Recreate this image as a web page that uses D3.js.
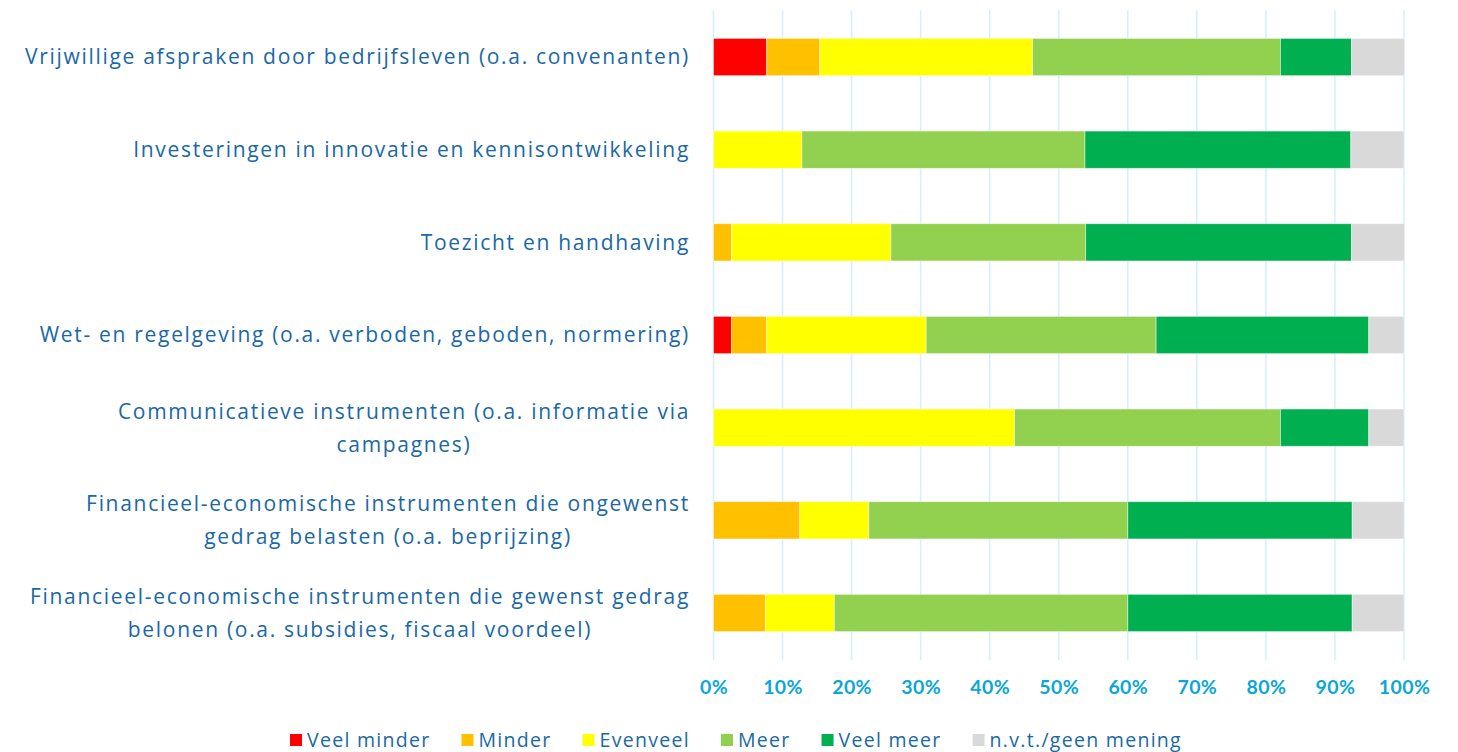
<!DOCTYPE html>
<html><head><meta charset="utf-8">
<script src="https://cdn.jsdelivr.net/npm/d3@7"></script>
<style>body{margin:0;background:#fff}svg{display:block}</style>
</head><body><svg id="c" width="1458" height="752"></svg>
<script>
const categories = [
  ["Vrijwillige afspraken door bedrijfsleven (o.a. convenanten)"],
  ["Investeringen in innovatie en kennisontwikkeling"],
  ["Toezicht en handhaving"],
  ["Wet- en regelgeving (o.a. verboden, geboden, normering)"],
  ["Communicatieve instrumenten (o.a. informatie via", "campagnes)"],
  ["Financieel-economische instrumenten die ongewenst", "gedrag belasten (o.a. beprijzing)"],
  ["Financieel-economische instrumenten die gewenst gedrag", "belonen (o.a. subsidies, fiscaal voordeel)"]
];
const seriesNames = ["Veel minder","Minder","Evenveel","Meer","Veel meer","n.v.t./geen mening"];
const seriesColors = ["#FF0000","#FFC000","#FFFF00","#92D050","#00B050","#D9D9D9"];
// percentages per category, per series
const veelMinder = [7.7, 0, 0, 2.6, 0, 0, 0];
const minder     = [7.7, 0, 2.6, 5.1, 0, 12.5, 7.5];
const evenveel   = [30.8, 12.8, 23.1, 23.1, 43.6, 10.0, 10.0];
const meer       = [35.9, 41.0, 28.2, 33.3, 38.5, 37.5, 42.5];
const veelMeer   = [10.3, 38.5, 38.5, 30.8, 12.8, 32.5, 32.5];
const nvt        = [7.7, 7.7, 7.7, 5.1, 5.1, 7.5, 7.5];
const tickValues = [0,10,20,30,40,50,60,70,80,90,100];

const seriesData = [veelMinder, minder, evenveel, meer, veelMeer, nvt];
const rows = categories.map((c,i)=>{const o={i}; seriesNames.forEach((s,j)=>o[s]=seriesData[j][i]); return o;});
const stack = d3.stack().keys(seriesNames)(rows);

const svg = d3.select("#c");
const x = d3.scaleLinear().domain([0,100]).range([713.5,1404]);
const y = d3.scaleBand().domain(d3.range(categories.length)).range([10.7,659.3]).paddingInner(0.598).paddingOuter(0.299);

// gridlines
svg.append("g").selectAll("line").data(tickValues).join("line")
  .attr("x1",d=>x(d)).attr("x2",d=>x(d)).attr("y1",10).attr("y2",660)
  .attr("stroke","#d4f1fb").attr("stroke-width",1.6);

// bars
svg.append("g").selectAll("g").data(stack).join("g")
  .attr("fill",(d,i)=>seriesColors[i])
  .selectAll("rect").data(d=>d).join("rect")
  .attr("x",d=>x(d[0])).attr("width",d=>Math.max(0,x(d[1])-x(d[0])))
  .attr("y",(d,i)=>y(i)).attr("height",y.bandwidth())
  .attr("stroke",d=>(d[1]-d[0])>0?"rgba(255,255,255,0.55)":"none").attr("stroke-width",0.8);

// x axis
const xAxis = d3.axisBottom(x).tickValues(tickValues).tickFormat(d=>d+"%").tickSize(0).tickPadding(0);
const ax = svg.append("g").attr("transform","translate(0,680)").call(xAxis);
ax.select(".domain").remove();
ax.selectAll("text").attr("font-family","Lato, sans-serif").attr("font-weight",700)
  .attr("font-size",19.5).attr("fill","#0aa6d9").attr("dy","0.71em").attr("letter-spacing","0.4px");

// category labels
const labelColor = "#1a68a6";
const FONT = "'Open Sans', sans-serif";
const lab = svg.append("g").attr("font-family",FONT).attr("font-size",21).attr("fill",labelColor);
// calibrate tracking on the first label (target width 665px)
const probe = lab.append("text").text(categories[0][0]);
const pw = probe.node().getComputedTextLength();
const ls = Math.max(0,(665 - pw) / categories[0][0].length);
probe.remove();
categories.forEach((lines,i)=>{
  const cy = y(i)+y.bandwidth()/2;
  const g = lab.append("g");
  const lh = 33;
  const texts = lines.map((t,k)=>g.append("text").text(t).attr("text-anchor","middle")
    .attr("letter-spacing",ls+"px")
    .attr("y", cy + (k-(lines.length-1)/2)*lh).attr("dy","0.35em"));
  const maxW = d3.max(texts, t=>t.node().getComputedTextLength());
  texts.forEach(t=>t.attr("x", 690 - maxW/2));
});

// legend
const leg = svg.append("g").attr("font-family",FONT).attr("font-size",19.5).attr("fill",labelColor);
const gap = 31;
// calibrate legend tracking so the whole legend spans ~892px
let rawW = 0, nch = 0;
seriesNames.forEach(s=>{const t=leg.append("text").text(s); rawW+=t.node().getComputedTextLength(); nch+=s.length; t.remove();});
const lls = Math.max(0,(892 - rawW - 17*seriesNames.length - gap*(seriesNames.length-1))/nch);
const items=[];
seriesNames.forEach((s,i)=>{
  const g = leg.append("g");
  g.append("rect").attr("x",0).attr("y",-6).attr("width",12).attr("height",12).attr("fill",seriesColors[i]);
  const t = g.append("text").attr("x",17).attr("dy","0.35em").attr("letter-spacing",lls+"px").text(s);
  const w = 17 + t.node().getComputedTextLength();
  items.push({g,w});
});
const total = d3.sum(items,d=>d.w) + gap*(items.length-1);
let sx = 736 - total/2;
items.forEach(it=>{it.g.attr("transform",`translate(${sx},740)`); sx += it.w + gap;});
</script></body></html>
